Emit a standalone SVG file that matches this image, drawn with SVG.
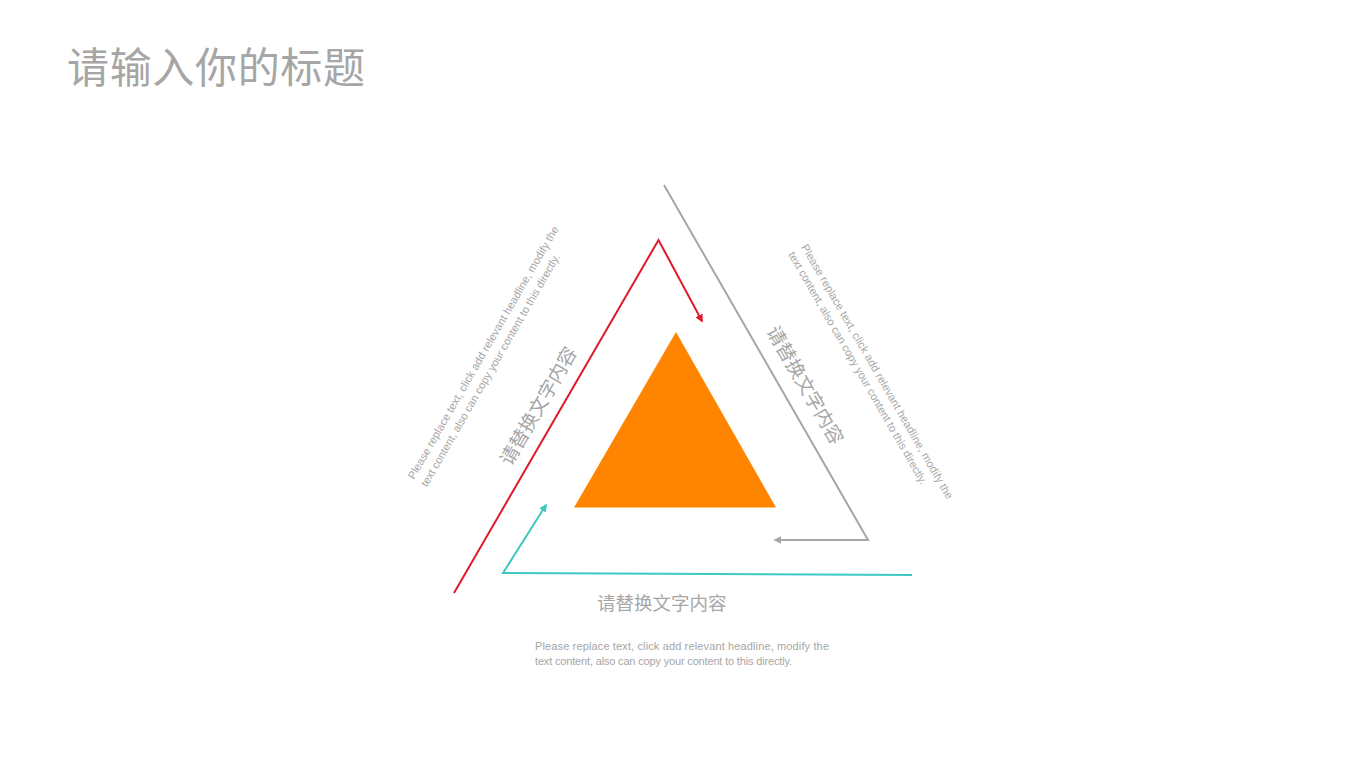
<svg xmlns="http://www.w3.org/2000/svg" width="1350" height="759" viewBox="0 0 1350 759">
<style>
.cn{font-family:"Liberation Sans","Noto Sans CJK SC",sans-serif;fill:#a6a6a6}
.en{font-family:"Liberation Sans","Noto Sans",sans-serif;fill:#a6a6a6;font-size:11px}
.ln{fill:none;stroke-width:2;stroke-linejoin:miter}
</style>
<defs>
<marker id="arR" viewBox="0 0 10 10" refX="8" refY="5" markerWidth="4" markerHeight="4" orient="auto" markerUnits="strokeWidth"><path d="M0,0 L10,5 L0,10 Z" fill="#e0192d"/></marker>
<marker id="arG" viewBox="0 0 10 10" refX="8" refY="5" markerWidth="4" markerHeight="4" orient="auto" markerUnits="strokeWidth"><path d="M0,0 L10,5 L0,10 Z" fill="#a6a6a6"/></marker>
<marker id="arC" viewBox="0 0 10 10" refX="8" refY="5" markerWidth="4" markerHeight="4" orient="auto" markerUnits="strokeWidth"><path d="M0,0 L10,5 L0,10 Z" fill="#3ec8c2"/></marker>
</defs>
<rect width="1350" height="759" fill="#ffffff"/>
<g id="title">
<text class="cn" x="67" y="83" font-size="42" textLength="298" lengthAdjust="spacing">请输入你的标题</text>
</g>
<g id="connectors">
<polyline class="ln" points="454,593 658.5,240 702,321" stroke="#e0192d" marker-end="url(#arR)"/>
<polyline class="ln" points="664,185 868,540 775,540" stroke="#a6a6a6" marker-end="url(#arG)"/>
<polyline class="ln" points="912,575 503,573 546,505" stroke="#3ec8c2" marker-end="url(#arC)"/>
</g>
<g id="center-triangle">
<polygon points="676,332 574,507.5 776,507.5" fill="#ff8500"/>
</g>
<g id="left-label">
<g transform="translate(511,467) rotate(-60)">
<text class="cn" x="0" y="0" font-size="19">请替换文字内容</text>
</g>
<g transform="translate(414,480) rotate(-60)">
<text class="en" x="0" y="0" textLength="290" lengthAdjust="spacing">Please replace text, click add relevant headline, modify the</text>
<text class="en" x="0" y="15">text content, also can copy your content to this directly.</text>
</g>
</g>
<g id="right-label">
<g transform="translate(766,331) rotate(60)">
<text class="cn" x="0" y="0" font-size="19">请替换文字内容</text>
</g>
<g transform="translate(801,247) rotate(60)">
<text class="en" x="0" y="0" textLength="292" lengthAdjust="spacing">Please replace text, click add relevant headline, modify the</text>
<text class="en" x="0" y="15">text content, also can copy your content to this directly.</text>
</g>
</g>
<g id="bottom-label">
<text class="cn" x="597" y="610" font-size="18.5">请替换文字内容</text>
<text class="en" x="535" y="650" textLength="294" lengthAdjust="spacing">Please replace text, click add relevant headline, modify the</text>
<text class="en" x="535" y="665" textLength="257" lengthAdjust="spacing">text content, also can copy your content to this directly.</text>
</g>
</svg>
